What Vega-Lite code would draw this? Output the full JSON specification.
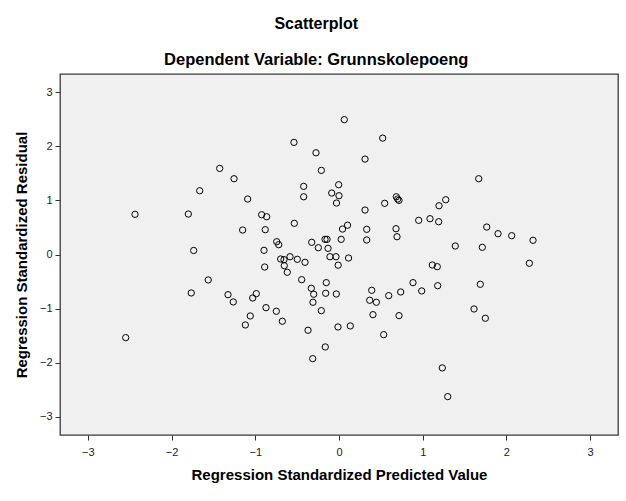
{
  "$schema": "https://vega.github.io/schema/vega-lite/v6.json",
  "width": 558,
  "height": 361,
  "autosize": {"type": "none"},
  "padding": {"left": 60, "top": 74, "right": 8, "bottom": 66},
  "background": "white",
  "title": {
    "text": "Scatterplot",
    "subtitle": "Dependent Variable: Grunnskolepoeng",
    "anchor": "middle",
    "frame": "bounds",
    "font": "Liberation Sans",
    "fontSize": 16,
    "fontWeight": "bold",
    "color": "black",
    "subtitleFont": "Liberation Sans",
    "subtitleFontSize": 16.5,
    "subtitleFontWeight": "bold",
    "subtitleColor": "black",
    "subtitlePadding": 20,
    "offset": 6
  },
  "config": {
    "view": {"fill": "#f0f0f0", "stroke": "#3a3a3a", "strokeWidth": 1.3},
    "axis": {
      "domain": false,
      "grid": false,
      "tickColor": "#333333",
      "tickSize": 5,
      "labelFont": "Liberation Sans",
      "labelFontSize": 11,
      "labelColor": "#222222",
      "titleFont": "Liberation Sans",
      "titleFontSize": 15,
      "titleFontWeight": "bold",
      "titleColor": "black"
    }
  },
  "data": {
    "values": [
      {"pred": 0.063, "resid": 2.49},
      {"pred": -0.538, "resid": 2.07},
      {"pred": -0.275, "resid": 1.878},
      {"pred": -0.211, "resid": 1.553},
      {"pred": -1.425, "resid": 1.59},
      {"pred": -1.254, "resid": 1.399},
      {"pred": -1.664, "resid": 1.177},
      {"pred": -0.422, "resid": 1.258},
      {"pred": -0.422, "resid": 1.066},
      {"pred": -0.004, "resid": 1.288},
      {"pred": -0.087, "resid": 1.135},
      {"pred": 0.0, "resid": 1.085},
      {"pred": -0.03, "resid": 0.95},
      {"pred": -1.091, "resid": 1.024},
      {"pred": -2.437, "resid": 0.742},
      {"pred": -1.8, "resid": 0.747},
      {"pred": -0.924, "resid": 0.734},
      {"pred": -0.864, "resid": 0.697},
      {"pred": -0.534, "resid": 0.576},
      {"pred": -1.151, "resid": 0.452},
      {"pred": -0.881, "resid": 0.458},
      {"pred": 0.102, "resid": 0.541},
      {"pred": 0.042, "resid": 0.47},
      {"pred": 0.026, "resid": 0.28},
      {"pred": -0.744, "resid": 0.236},
      {"pred": -0.72, "resid": 0.181},
      {"pred": -0.326, "resid": 0.225},
      {"pred": -0.247, "resid": 0.125},
      {"pred": -0.167, "resid": 0.28},
      {"pred": -0.143, "resid": 0.28},
      {"pred": -0.131, "resid": 0.114},
      {"pred": -1.736, "resid": 0.074},
      {"pred": -0.896, "resid": 0.077},
      {"pred": -0.697, "resid": -0.083},
      {"pred": -0.657, "resid": -0.096},
      {"pred": -0.585, "resid": -0.041},
      {"pred": -0.498, "resid": -0.089},
      {"pred": -0.406, "resid": -0.144},
      {"pred": -0.108, "resid": -0.041},
      {"pred": -0.036, "resid": -0.041},
      {"pred": -0.01, "resid": -0.197},
      {"pred": 0.114, "resid": -0.065},
      {"pred": -0.888, "resid": -0.231},
      {"pred": -0.654, "resid": -0.207},
      {"pred": -0.618, "resid": -0.328},
      {"pred": -1.562, "resid": -0.47},
      {"pred": -0.446, "resid": -0.465},
      {"pred": -1.765, "resid": -0.71},
      {"pred": -1.326, "resid": -0.742},
      {"pred": -1.263, "resid": -0.876},
      {"pred": -0.988, "resid": -0.723},
      {"pred": -1.031, "resid": -0.803},
      {"pred": -0.872, "resid": -0.982},
      {"pred": -0.749, "resid": -1.048},
      {"pred": -1.06, "resid": -1.135},
      {"pred": -1.119, "resid": -1.301},
      {"pred": -0.677, "resid": -1.232},
      {"pred": -0.331, "resid": -0.624},
      {"pred": -0.302, "resid": -0.734},
      {"pred": -0.311, "resid": -0.882},
      {"pred": -0.211, "resid": -1.037},
      {"pred": -0.152, "resid": -0.52},
      {"pred": -0.159, "resid": -0.716},
      {"pred": -0.032, "resid": -0.729},
      {"pred": -0.37, "resid": -1.399},
      {"pred": -0.012, "resid": -1.338},
      {"pred": 0.135, "resid": -1.319},
      {"pred": -2.548, "resid": -1.535},
      {"pred": -0.164, "resid": -1.707},
      {"pred": -0.314, "resid": -1.923},
      {"pred": 0.391, "resid": -0.661},
      {"pred": 0.367, "resid": -0.845},
      {"pred": 0.446, "resid": -0.882},
      {"pred": 0.594, "resid": -0.76},
      {"pred": 0.737, "resid": -0.692},
      {"pred": 0.884, "resid": -0.52},
      {"pred": 0.988, "resid": -0.673},
      {"pred": 1.179, "resid": -0.576},
      {"pred": 1.115, "resid": -0.194},
      {"pred": 1.174, "resid": -0.225},
      {"pred": 0.406, "resid": -1.111},
      {"pred": 0.717, "resid": -1.129},
      {"pred": 0.534, "resid": -1.48},
      {"pred": 1.688, "resid": -0.55},
      {"pred": 1.613, "resid": -1.006},
      {"pred": 1.748, "resid": -1.177},
      {"pred": 2.274, "resid": -0.162},
      {"pred": 1.234, "resid": -2.094},
      {"pred": 1.299, "resid": -2.624},
      {"pred": 0.522, "resid": 2.149},
      {"pred": 0.311, "resid": 1.762},
      {"pred": 1.669, "resid": 1.399},
      {"pred": 0.546, "resid": 0.945},
      {"pred": 0.685, "resid": 1.066},
      {"pred": 0.701, "resid": 1.024},
      {"pred": 0.717, "resid": 1.0},
      {"pred": 0.311, "resid": 0.821},
      {"pred": 1.275, "resid": 1.011},
      {"pred": 1.195, "resid": 0.9},
      {"pred": 0.952, "resid": 0.631},
      {"pred": 1.087, "resid": 0.661},
      {"pred": 1.191, "resid": 0.605},
      {"pred": 0.331, "resid": 0.465},
      {"pred": 0.331, "resid": 0.268},
      {"pred": 0.681, "resid": 0.476},
      {"pred": 0.693, "resid": 0.328},
      {"pred": 1.765, "resid": 0.507},
      {"pred": 1.9, "resid": 0.384},
      {"pred": 2.063, "resid": 0.347},
      {"pred": 2.318, "resid": 0.262},
      {"pred": 1.389, "resid": 0.157},
      {"pred": 1.712, "resid": 0.133}
    ]
  },
  "mark": {"type": "point", "shape": "circle", "filled": false, "stroke": "black", "strokeWidth": 1, "size": 40, "opacity": 1},
  "encoding": {
    "x": {
      "field": "pred",
      "type": "quantitative",
      "title": "Regression Standardized Predicted Value",
      "scale": {"domain": [-3.333, 3.333], "nice": false, "zero": false},
      "axis": {"values": [-3, -2, -1, 0, 1, 2, 3], "labelPadding": 6, "titlePadding": 10, "labelFlush": false}
    },
    "y": {
      "field": "resid",
      "type": "quantitative",
      "title": "Regression Standardized Residual",
      "scale": {"domain": [-3.333, 3.333], "nice": false, "zero": false},
      "axis": {"values": [-3, -2, -1, 0, 1, 2, 3], "labelPadding": 3, "titlePadding": 10, "labelFlush": false}
    }
  }
}
